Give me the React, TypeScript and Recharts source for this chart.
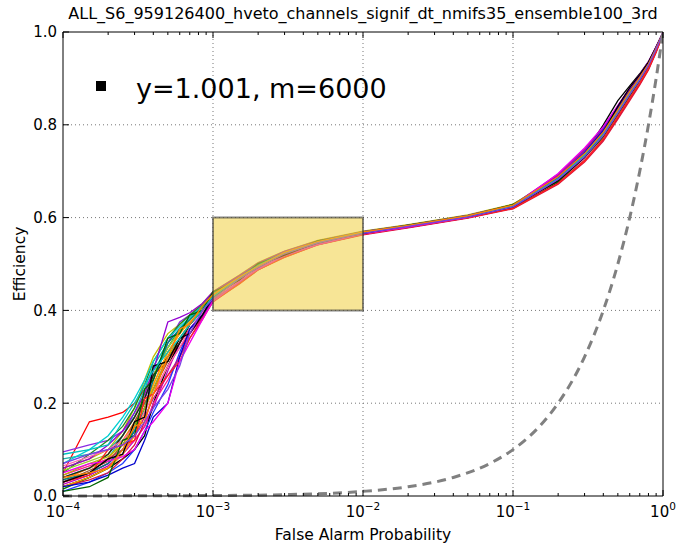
import { LineChart, Line, XAxis, YAxis, ReferenceArea, ReferenceLine, Legend } from "recharts"

const TITLE = "ALL_S6_959126400_hveto_channels_signif_dt_nmifs35_ensemble100_3rd"
const X_LABEL = "False Alarm Probability"
const Y_LABEL = "Efficiency"
const LEGEND_LABEL = "y=1.001, m=6000"

// shared false alarm probabilities for every ensemble curve
const FAP = [
  1e-4, 1.5e-4, 2e-4, 2.5e-4, 3e-4, 3.5e-4, 4e-4, 5e-4, 6e-4, 7e-4, 8.5e-4,
  1e-3, 1.5e-3, 2e-3, 3e-3, 5e-3, 1e-2, 2e-2, 5e-2,
  0.1, 0.2, 0.3, 0.4, 0.5, 0.6, 0.7, 0.8, 0.9, 1,
]

// efficiency of each ensemble member, one array per curve
const c0 = [0.03, 0.05, 0.07, 0.1, 0.14, 0.19, 0.23, 0.3, 0.34, 0.37, 0.4, 0.428, 0.466, 0.494, 0.52, 0.545, 0.566, 0.58, 0.601, 0.624, 0.688, 0.742, 0.79, 0.838, 0.876, 0.905, 0.934, 0.967, 0.998]
const c1 = [0.015, 0.04, 0.06, 0.09, 0.15, 0.21, 0.26, 0.32, 0.36, 0.38, 0.41, 0.438, 0.474, 0.5, 0.526, 0.55, 0.57, 0.584, 0.605, 0.628, 0.69, 0.738, 0.782, 0.828, 0.866, 0.898, 0.928, 0.963, 0.997]
const c2 = [0.05, 0.16, 0.17, 0.18, 0.2, 0.23, 0.26, 0.29, 0.33, 0.36, 0.39, 0.425, 0.462, 0.49, 0.518, 0.543, 0.565, 0.579, 0.6, 0.62, 0.676, 0.724, 0.768, 0.815, 0.856, 0.888, 0.92, 0.958, 0.996]
const c3 = [0.04, 0.06, 0.08, 0.13, 0.18, 0.23, 0.28, 0.33, 0.36, 0.385, 0.41, 0.435, 0.47, 0.498, 0.524, 0.549, 0.569, 0.583, 0.604, 0.626, 0.684, 0.733, 0.778, 0.826, 0.868, 0.9, 0.93, 0.964, 0.998]
const c4 = [0.025, 0.045, 0.065, 0.09, 0.12, 0.15, 0.19, 0.27, 0.33, 0.37, 0.4, 0.43, 0.468, 0.495, 0.521, 0.546, 0.567, 0.581, 0.602, 0.627, 0.694, 0.748, 0.795, 0.84, 0.878, 0.907, 0.935, 0.968, 0.999]
const c5 = [0.06, 0.08, 0.1, 0.14, 0.19, 0.25, 0.3, 0.35, 0.37, 0.39, 0.415, 0.44, 0.476, 0.503, 0.528, 0.551, 0.571, 0.585, 0.606, 0.629, 0.686, 0.736, 0.781, 0.829, 0.87, 0.9, 0.931, 0.965, 0.998]
const c6 = [0.02, 0.04, 0.06, 0.08, 0.1, 0.13, 0.2, 0.28, 0.33, 0.37, 0.4, 0.432, 0.469, 0.496, 0.521, 0.546, 0.567, 0.582, 0.603, 0.621, 0.676, 0.738, 0.8, 0.852, 0.884, 0.91, 0.936, 0.968, 0.999]
const c7 = [0.095, 0.11, 0.12, 0.14, 0.17, 0.21, 0.25, 0.33, 0.375, 0.39, 0.41, 0.436, 0.472, 0.499, 0.524, 0.548, 0.568, 0.582, 0.603, 0.626, 0.69, 0.742, 0.786, 0.832, 0.872, 0.902, 0.932, 0.966, 0.998]
const c8 = [0.035, 0.06, 0.08, 0.12, 0.16, 0.2, 0.24, 0.31, 0.35, 0.38, 0.405, 0.433, 0.47, 0.497, 0.523, 0.547, 0.568, 0.582, 0.603, 0.625, 0.682, 0.73, 0.775, 0.822, 0.862, 0.895, 0.927, 0.962, 0.997]
const c9 = [0.045, 0.065, 0.08, 0.1, 0.12, 0.15, 0.2, 0.25, 0.3, 0.35, 0.39, 0.42, 0.46, 0.488, 0.516, 0.542, 0.564, 0.579, 0.6, 0.623, 0.68, 0.728, 0.772, 0.82, 0.86, 0.893, 0.925, 0.96, 0.996]
const c10 = [0.08, 0.09, 0.1, 0.13, 0.17, 0.22, 0.27, 0.32, 0.355, 0.38, 0.405, 0.434, 0.471, 0.498, 0.523, 0.548, 0.569, 0.583, 0.604, 0.627, 0.687, 0.737, 0.783, 0.831, 0.871, 0.901, 0.931, 0.965, 0.998]
const c11 = [0.03, 0.055, 0.075, 0.11, 0.16, 0.2, 0.23, 0.29, 0.34, 0.37, 0.4, 0.43, 0.466, 0.494, 0.52, 0.545, 0.566, 0.58, 0.601, 0.622, 0.678, 0.726, 0.77, 0.818, 0.858, 0.891, 0.923, 0.959, 0.996]
const c12 = [0.01, 0.03, 0.05, 0.07, 0.1, 0.14, 0.18, 0.24, 0.31, 0.36, 0.395, 0.427, 0.465, 0.493, 0.519, 0.544, 0.566, 0.58, 0.601, 0.624, 0.69, 0.745, 0.792, 0.84, 0.877, 0.906, 0.934, 0.967, 0.998]
const c13 = [0.05, 0.09, 0.12, 0.15, 0.19, 0.24, 0.29, 0.34, 0.37, 0.39, 0.412, 0.437, 0.473, 0.5, 0.525, 0.549, 0.569, 0.583, 0.604, 0.628, 0.683, 0.73, 0.776, 0.824, 0.864, 0.897, 0.929, 0.963, 0.997]
const c14 = [0.02, 0.035, 0.05, 0.08, 0.11, 0.16, 0.22, 0.28, 0.32, 0.35, 0.385, 0.418, 0.458, 0.487, 0.515, 0.541, 0.563, 0.578, 0.599, 0.619, 0.672, 0.72, 0.765, 0.812, 0.852, 0.886, 0.918, 0.956, 0.995]
const c15 = [0.07, 0.1, 0.13, 0.17, 0.21, 0.25, 0.29, 0.34, 0.365, 0.385, 0.41, 0.436, 0.471, 0.498, 0.523, 0.547, 0.568, 0.582, 0.603, 0.626, 0.688, 0.74, 0.785, 0.833, 0.873, 0.903, 0.933, 0.966, 0.998]
const c16 = [0.03, 0.05, 0.07, 0.1, 0.13, 0.17, 0.21, 0.26, 0.3, 0.34, 0.385, 0.422, 0.461, 0.49, 0.517, 0.543, 0.565, 0.579, 0.6, 0.623, 0.692, 0.746, 0.79, 0.836, 0.874, 0.904, 0.933, 0.966, 0.998]
const c17 = [0.055, 0.075, 0.09, 0.13, 0.17, 0.22, 0.26, 0.32, 0.355, 0.38, 0.405, 0.432, 0.469, 0.496, 0.522, 0.546, 0.567, 0.581, 0.602, 0.625, 0.685, 0.734, 0.779, 0.827, 0.867, 0.899, 0.93, 0.964, 0.998]
const c18 = [0.04, 0.06, 0.09, 0.13, 0.17, 0.21, 0.26, 0.3, 0.33, 0.37, 0.4, 0.43, 0.467, 0.495, 0.521, 0.546, 0.567, 0.581, 0.602, 0.624, 0.681, 0.732, 0.786, 0.836, 0.874, 0.904, 0.932, 0.966, 0.998]
const c19 = [0.06, 0.08, 0.11, 0.14, 0.18, 0.22, 0.27, 0.375, 0.385, 0.395, 0.415, 0.44, 0.475, 0.502, 0.527, 0.55, 0.57, 0.584, 0.605, 0.627, 0.689, 0.741, 0.787, 0.834, 0.874, 0.904, 0.933, 0.966, 0.998]
const c20 = [0.02, 0.04, 0.06, 0.09, 0.13, 0.18, 0.24, 0.31, 0.35, 0.375, 0.4, 0.429, 0.467, 0.495, 0.521, 0.546, 0.567, 0.581, 0.602, 0.624, 0.683, 0.732, 0.777, 0.825, 0.865, 0.897, 0.928, 0.962, 0.997]
const c21 = [0.065, 0.085, 0.1, 0.12, 0.15, 0.18, 0.22, 0.28, 0.32, 0.36, 0.395, 0.426, 0.464, 0.492, 0.518, 0.544, 0.565, 0.58, 0.601, 0.623, 0.679, 0.727, 0.772, 0.82, 0.86, 0.893, 0.925, 0.961, 0.997]
const c22 = [0.035, 0.05, 0.07, 0.1, 0.14, 0.19, 0.25, 0.33, 0.36, 0.38, 0.408, 0.435, 0.471, 0.499, 0.524, 0.548, 0.569, 0.583, 0.604, 0.626, 0.686, 0.736, 0.781, 0.829, 0.869, 0.9, 0.93, 0.965, 0.998]
const c23 = [0.045, 0.07, 0.085, 0.11, 0.15, 0.19, 0.23, 0.3, 0.34, 0.37, 0.402, 0.431, 0.468, 0.496, 0.522, 0.546, 0.567, 0.581, 0.602, 0.625, 0.684, 0.733, 0.778, 0.826, 0.866, 0.898, 0.929, 0.963, 0.997]
const c24 = [0.02, 0.03, 0.045, 0.06, 0.07, 0.12, 0.17, 0.2, 0.3, 0.36, 0.39, 0.426, 0.47, 0.492, 0.523, 0.544, 0.567, 0.58, 0.602, 0.626, 0.686, 0.74, 0.788, 0.835, 0.874, 0.905, 0.933, 0.966, 0.998]
const c25 = [0.01, 0.02, 0.04, 0.12, 0.13, 0.23, 0.25, 0.34, 0.35, 0.39, 0.4, 0.44, 0.465, 0.501, 0.52, 0.55, 0.566, 0.584, 0.603, 0.628, 0.678, 0.73, 0.774, 0.822, 0.862, 0.895, 0.926, 0.962, 0.997]
const c26 = [0.03, 0.045, 0.1, 0.11, 0.12, 0.21, 0.22, 0.26, 0.29, 0.34, 0.38, 0.42, 0.457, 0.488, 0.514, 0.542, 0.564, 0.58, 0.6, 0.62, 0.674, 0.722, 0.77, 0.818, 0.858, 0.89, 0.922, 0.958, 0.996]
const c27 = [0.05, 0.07, 0.075, 0.085, 0.1, 0.14, 0.16, 0.2, 0.29, 0.33, 0.38, 0.42, 0.462, 0.489, 0.518, 0.542, 0.565, 0.58, 0.601, 0.624, 0.695, 0.75, 0.796, 0.842, 0.879, 0.908, 0.936, 0.968, 0.999]
const c28 = [0.03, 0.05, 0.08, 0.09, 0.16, 0.17, 0.28, 0.29, 0.34, 0.35, 0.39, 0.43, 0.466, 0.497, 0.519, 0.547, 0.566, 0.582, 0.602, 0.623, 0.68, 0.73, 0.783, 0.84, 0.88, 0.908, 0.935, 0.967, 0.998]
const c29 = [0.09, 0.1, 0.11, 0.16, 0.2, 0.24, 0.27, 0.31, 0.34, 0.37, 0.4, 0.43, 0.47, 0.497, 0.524, 0.546, 0.568, 0.582, 0.603, 0.625, 0.684, 0.735, 0.781, 0.83, 0.87, 0.9, 0.93, 0.965, 0.998]
const c30 = [0.04, 0.05, 0.06, 0.1, 0.15, 0.16, 0.22, 0.3, 0.36, 0.37, 0.41, 0.434, 0.472, 0.495, 0.525, 0.548, 0.569, 0.583, 0.604, 0.627, 0.688, 0.738, 0.784, 0.832, 0.872, 0.902, 0.931, 0.965, 0.998]
const c31 = [0.07, 0.09, 0.1, 0.11, 0.13, 0.16, 0.19, 0.23, 0.28, 0.35, 0.4, 0.425, 0.468, 0.493, 0.522, 0.546, 0.566, 0.581, 0.601, 0.623, 0.682, 0.731, 0.777, 0.825, 0.865, 0.897, 0.928, 0.963, 0.997]

const CURVES = [
  c0, c1, c2, c3, c4, c5, c6, c7, c8, c9, c10, c11, c12, c13, c14, c15,
  c16, c17, c18, c19, c20, c21, c22, c23, c24, c25, c26, c27, c28, c29, c30, c31,
]

// random-guess reference line (efficiency = false alarm probability)
const CHANCE_FAP = [1e-4, 1e-3, 3e-3, 1e-2, 0.02, 0.04, 0.07, 0.1, 0.15, 0.2, 0.3, 0.4, 0.5, 0.6, 0.7, 0.8, 0.9, 1]
const CHANCE_EFF = [1e-4, 1e-3, 3e-3, 1e-2, 0.02, 0.04, 0.07, 0.1, 0.15, 0.2, 0.3, 0.4, 0.5, 0.6, 0.7, 0.8, 0.9, 1]

// highlighted box
const BOX_FAP = [1e-3, 1e-2]
const BOX_EFF = [0.4, 0.6]

const MAJOR_FAP = [1e-4, 1e-3, 1e-2, 1e-1, 1]
const MINOR_MANTISSA = [2, 3, 4, 5, 6, 7, 8, 9]
const GRID_FAP = [1e-3, 1e-2, 1e-1]
const EFF_TICKS = [0, 0.2, 0.4, 0.6, 0.8, 1]
const GRID_EFF = [0.2, 0.4, 0.6, 0.8]

const minorFap: number[] = []
MAJOR_FAP.slice(0, -1).forEach((d) => MINOR_MANTISSA.forEach((m) => minorFap.push(+(d * m).toPrecision(3))))
const xTicks = [...MAJOR_FAP, ...minorFap].sort((a, b) => a - b)

const COLORS = [
  "#0000ff", "#008000", "#ff0000", "#00bfbf", "#bf00bf", "#bfbf00", "#000000", "#8a2be2",
  "#ff8c00", "#ff1493", "#20b2aa", "#a0522d", "#1e3cff", "#228b22", "#dc143c", "#00ced1",
  "#c71585", "#9acd32", "#202020", "#9400d3", "#ffa500", "#ff69b4", "#008080", "#b8b800",
  "#0000cd", "#006400", "#ff2020", "#ee00ee", "#000000", "#00c0c0", "#ff7f00", "#7b3fe4",
]

const FONT = "DejaVu Sans"

function BottomTick(props: any) {
  const { x, y, payload } = props
  const major = MAJOR_FAP.includes(payload.value)
  const exp = Math.round(Math.log10(payload.value))
  return (
    <g>
      <line x1={x} x2={x} y1={y} y2={y - (major ? 6 : 3)} stroke="#000" />
      {major && (
        <text x={x} y={y + 21} textAnchor="middle" fontSize={15} fontFamily={FONT} fill="#000">
          10
          <tspan dy={-7} fontSize={10.5}>{exp < 0 ? "\u2212" + Math.abs(exp) : exp}</tspan>
        </text>
      )}
    </g>
  )
}

function TopTick(props: any) {
  const { x, y, payload } = props
  const major = MAJOR_FAP.includes(payload.value)
  return <line x1={x} x2={x} y1={y} y2={y + (major ? 6 : 3)} stroke="#000" />
}

function LeftTick(props: any) {
  const { x, y, payload } = props
  return (
    <g>
      <line x1={x} x2={x + 6} y1={y} y2={y} stroke="#000" />
      <text x={x - 6} y={y} dy="0.36em" textAnchor="end" fontSize={15} fontFamily={FONT} fill="#000">
        {payload.value.toFixed(1)}
      </text>
    </g>
  )
}

function RightTick(props: any) {
  const { x, y } = props
  return <line x1={x} x2={x - 6} y1={y} y2={y} stroke="#000" />
}

function LegendBox() {
  return (
    <div style={{ display: "flex", alignItems: "center", fontFamily: FONT, fontSize: 27, color: "#000", lineHeight: "34px" }}>
      <span style={{ width: 10, height: 10, background: "#000", display: "inline-block", marginRight: 30, marginTop: -6 }} />
      <span>{LEGEND_LABEL}</span>
    </div>
  )
}

export default function App() {
  return (
    <div style={{ position: "absolute", left: 0, top: 0, width: 677, height: 544, background: "#fff", fontFamily: FONT }}>
      <div
        style={{
          position: "absolute", left: 63, top: 4, width: 600, textAlign: "center",
          fontSize: 16, lineHeight: "20px", color: "#000", whiteSpace: "nowrap",
        }}
      >
        {TITLE}
      </div>
      <LineChart width={677} height={544} margin={{ top: 30, right: 12, bottom: 2, left: 13 }}>
        <XAxis
          dataKey="fap"
          type="number"
          scale="log"
          domain={[1e-4, 1]}
          allowDataOverflow
          ticks={xTicks}
          interval={0}
          tickSize={0}
          tickMargin={0}
          tickLine={false}
          tick={<BottomTick />}
          height={46}
          axisLine={{ stroke: "#000" }}
          label={{ value: X_LABEL, position: "insideBottom", offset: 2, fontSize: 15.5, fill: "#000", fontFamily: FONT }}
        />
        <XAxis
          xAxisId="top"
          orientation="top"
          dataKey="fap"
          type="number"
          scale="log"
          domain={[1e-4, 1]}
          allowDataOverflow
          ticks={xTicks}
          interval={0}
          tickSize={0}
          tickMargin={0}
          tickLine={false}
          tick={<TopTick />}
          height={2}
          axisLine={{ stroke: "#000" }}
        />
        <YAxis
          type="number"
          domain={[0, 1]}
          ticks={EFF_TICKS}
          interval={0}
          tickSize={0}
          tickMargin={0}
          tickLine={false}
          tick={<LeftTick />}
          width={50}
          axisLine={{ stroke: "#000" }}
          label={{ value: Y_LABEL, angle: -90, position: "insideLeft", offset: 6, fontSize: 15.5, fill: "#000", fontFamily: FONT, style: { textAnchor: "middle" } }}
        />
        <YAxis
          yAxisId="right"
          orientation="right"
          type="number"
          domain={[0, 1]}
          ticks={EFF_TICKS}
          interval={0}
          tickSize={0}
          tickMargin={0}
          tickLine={false}
          tick={<RightTick />}
          width={2}
          axisLine={{ stroke: "#000" }}
        />
        {GRID_FAP.map((v) => (
          <ReferenceLine key={"gx" + v} x={v} stroke="#777" strokeDasharray="1 3" />
        ))}
        {GRID_EFF.map((v) => (
          <ReferenceLine key={"gy" + v} y={v} stroke="#777" strokeDasharray="1 3" />
        ))}
        {CURVES.map((curve, i) => (
          <Line
            key={i}
            data={FAP.map((f, j) => ({ fap: f, eff: curve[j] }))}
            dataKey="eff"
            type="linear"
            stroke={COLORS[i % COLORS.length]}
            strokeWidth={1.3}
            dot={false}
            isAnimationActive={false}
          />
        ))}
        <ReferenceArea
          x1={BOX_FAP[0]}
          x2={BOX_FAP[1]}
          y1={BOX_EFF[0]}
          y2={BOX_EFF[1]}
          fill="#f0d040"
          fillOpacity={0.55}
          stroke="#333"
          strokeOpacity={0.6}
          strokeWidth={2}
          zIndex={450}
        />
        <Line
          data={CHANCE_FAP.map((f, j) => ({ fap: f, eff: CHANCE_EFF[j] }))}
          dataKey="eff"
          type="monotone"
          stroke="#808080"
          strokeWidth={3}
          strokeDasharray="9 6"
          dot={false}
          isAnimationActive={false}
        />
        <Legend
          layout="horizontal"
          verticalAlign="middle"
          align="center"
          content={<LegendBox />}
          wrapperStyle={{ left: 96, top: 72, width: "auto" }}
        />
      </LineChart>
    </div>
  )
}
